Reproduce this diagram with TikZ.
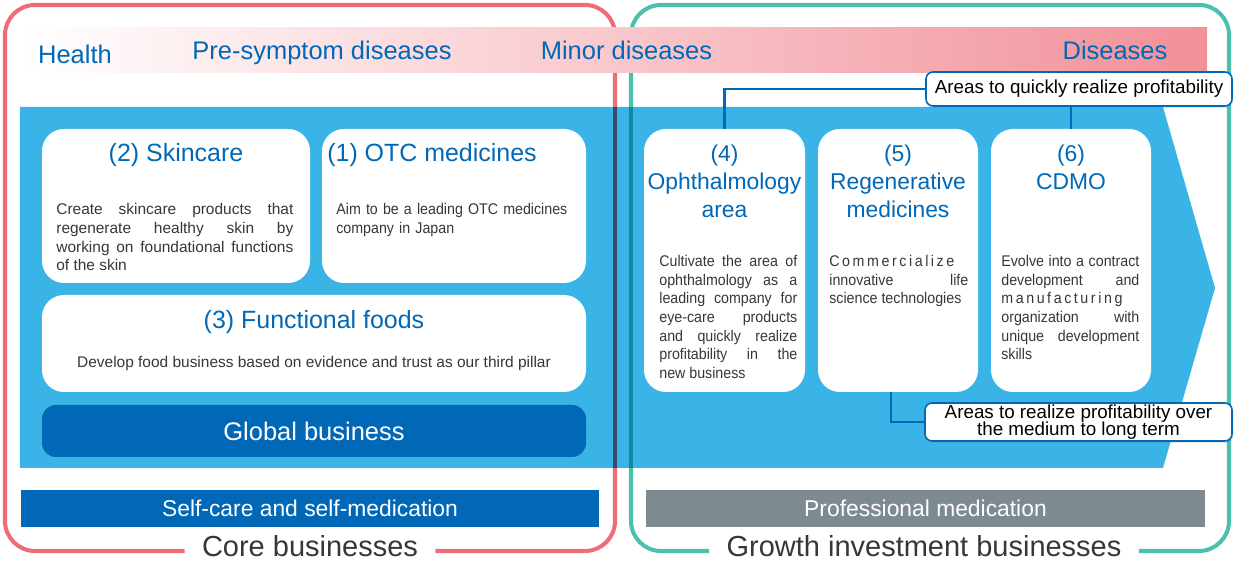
\documentclass[tikz,border=0pt]{standalone}
\usepackage{fontspec}
\setmainfont{Liberation Sans}
\newfontfamily\narrowsans[FakeStretch=0.92]{Liberation Sans}
\usetikzlibrary{shadows}

\definecolor{corered}{RGB}{238,107,120}
\definecolor{growthteal}{RGB}{76,192,174}
\definecolor{skyblue}{RGB}{58,180,230}
\definecolor{deepblue}{RGB}{0,104,183}
\definecolor{medgray}{RGB}{125,138,143}
\definecolor{bodygray}{RGB}{55,55,55}
\definecolor{bandpink}{RGB}{242,144,153}
\definecolor{bandmid}{RGB}{249,204,209}
\definecolor{redonblue}{RGB}{54,75,108}
\definecolor{tealonblue}{RGB}{17,136,157}

\begin{document}
\begin{tikzpicture}[
    groupframe/.style = {
      line width=2.3pt,
      rounded corners=0.6cm
    },
    card/.style = {
      fill=white,
      rounded corners=0.44cm,
      inner sep=0pt
    },
    cardtitle/.style = {
      text=deepblue,
      font=\fontsize{14.2}{17}\selectfont,
      inner sep=0pt,
      anchor=base
    },
    sidetitle/.style = {
      text=deepblue,
      font=\fontsize{13}{15.9}\selectfont,
      text width=3.2cm,
      align=center,
      inner sep=0pt,
      anchor=base
    },
    body/.style = {
      text=bodygray,
      font=\fontsize{8.8}{10.6}\selectfont,
      inner sep=0pt,
      anchor=base west
    },
    narrowbody/.style = {
      body,
      font=\narrowsans\fontsize{8.8}{10.6}\selectfont
    },
    stage/.style = {
      text=deepblue,
      font=\fontsize{14.5}{17}\selectfont,
      inner sep=0pt,
      anchor=base
    },
    bar/.style = {
      text=white,
      font=\fontsize{13}{15}\selectfont,
      minimum height=0.74cm,
      inner sep=0pt
    },
    callout/.style = {
      fill=white,
      draw=deepblue,
      line width=0.9pt,
      rounded corners=0.14cm,
      font=\fontsize{10.7}{10}\selectfont,
      align=center,
      inner sep=0pt,
      drop shadow={opacity=0.2, shadow xshift=0.03cm, shadow yshift=-0.04cm}
    },
    link/.style = {
      draw=deepblue,
      line width=1.2pt
    },
    grouplabel/.style = {
      font=\fontsize{16.5}{20}\selectfont,
      text=bodygray,
      inner xsep=0.34cm,
      inner ysep=0pt,
      anchor=base
    }
  ]

    \useasboundingbox (0,0) rectangle (24.68,-11.3);

    % Group labels and frames
    \node[grouplabel] (core) at (6.2,-11.14) {Core businesses};
    \node[grouplabel] (growth) at (18.48,-11.14) {Growth investment businesses};

    \draw[groupframe, corered] (core.west |- 0,-11.02) -- (0.1,-11.02) -- (0.1,-0.1)
      -- (12.3,-0.1) -- (12.3,-11.02) -- (core.east |- 0,-11.02);
    \draw[groupframe, growthteal] (growth.west |- 0,-11.02) -- (12.62,-11.02) -- (12.62,-0.1)
      -- (24.58,-0.1) -- (24.58,-11.02) -- (growth.east |- 0,-11.02);

    % Disease stage band
    \node[minimum width=23.74cm, minimum height=0.9cm, inner sep=0pt,
      left color=white, middle color=bandmid, right color=bandpink] (band) at (12.27,-1.01) {};
    \node[stage] (health) at (1.5,-1.28) {Health};
    \node[stage] (presym) at (6.44,-1.2) {Pre-symptom diseases};
    \node[stage] (minor) at (12.53,-1.2) {Minor diseases};
    \node[stage] (disease) at (22.3,-1.2) {Diseases};

    % Big arrow
    \fill[skyblue] (0.4,-2.14) -- (23.26,-2.14) -- (24.3,-5.76) -- (23.26,-9.36) -- (0.4,-9.36) -- cycle;
    \draw[line width=2.3pt, redonblue] (12.3,-2.14) -- (12.3,-9.36);
    \draw[line width=2.3pt, tealonblue] (12.62,-2.14) -- (12.62,-9.36);

    % Core business cards
    \node[card, minimum width=5.36cm, minimum height=3.08cm] (skin) at (3.52,-4.12) {};
    \node[card, minimum width=5.28cm, minimum height=3.08cm] (otc) at (9.08,-4.12) {};
    \node[card, minimum width=10.88cm, minimum height=1.94cm] (food) at (6.28,-6.87) {};
    \node[card, fill=deepblue, rounded corners=0.28cm, minimum width=10.88cm, minimum height=1.04cm,
      text=white, font=\fontsize{14.5}{17}\selectfont] (global) at (6.28,-8.62) {Global business};

    \node[cardtitle] (skintitle) at (3.52,-3.24) {(2) Skincare};
    \node[cardtitle] (otctitle) at (8.64,-3.24) {(1) OTC medicines};
    \node[cardtitle] (foodtitle) at (6.28,-6.58) {(3) Functional foods};

    \node[body, text width=4.74cm, align=justify] (skintext) at (1.12,-4.3)
      {Create skincare products that\linebreak regenerate healthy skin by\linebreak
       working on foundational functions\linebreak of the skin};
    \node[narrowbody, text width=4.95cm, align=left] (otctext) at (6.72,-4.3)
      {Aim to be a leading OTC medicines\\company in Japan};
    \node[body, anchor=base] (foodtext) at (6.28,-7.36)
      {Develop food business based on evidence and trust as our third pillar};

    % Growth investment cards
    \node[card, minimum width=3.22cm, minimum height=5.26cm] (oph) at (14.49,-5.21) {};
    \node[card, minimum width=3.2cm, minimum height=5.26cm] (regen) at (17.96,-5.21) {};
    \node[card, minimum width=3.2cm, minimum height=5.26cm] (cdmo) at (21.42,-5.21) {};

    \node[sidetitle] (ophtitle) at (14.49,-3.24) {(4)\\Ophthalmology\\area};
    \node[sidetitle] (regentitle) at (17.96,-3.24) {(5)\\Regenerative\\medicines};
    \node[sidetitle] (cdmotitle) at (21.42,-3.24) {(6)\\CDMO};

    \node[narrowbody, text width=2.76cm, align=justify] (ophtext) at (13.18,-5.33)
      {Cultivate the area of\linebreak ophthalmology as a\linebreak leading company for\linebreak
       eye-care products\linebreak and quickly realize\linebreak profitability in the\linebreak new business};
    \node[narrowbody, text width=2.78cm, align=justify] (regentext) at (16.58,-5.33)
      {C\,o\,m\,m\,e\,r\,c\,i\,a\,l\,i\,z\,e\linebreak innovative life\linebreak science technologies};
    \node[narrowbody, text width=2.76cm, align=justify] (cdmotext) at (20.02,-5.33)
      {Evolve into a contract\linebreak development and\linebreak
       m\,a\,n\,u\,f\,a\,c\,t\,u\,r\,i\,n\,g\linebreak organization with\linebreak
       unique development\linebreak skills};

    % Profitability callouts
    \draw[link] (18.52,-1.78) -| (oph.north);
    \draw[link] (cdmo.north |- 0,-2.12) -- (cdmo.north);
    \draw[link] ([xshift=-0.14cm]regen.south) |- (18.5,-8.44);

    \node[callout, minimum width=6.12cm, minimum height=0.68cm] (quick) at (21.58,-1.78)
      {Areas to quickly realize profitability};
    \node[callout, minimum width=6.14cm, minimum height=0.76cm] (medium) at (21.57,-8.44)
      {Areas to realize profitability over\\the medium to long term};

    % Bottom bars
    \node[bar, fill=deepblue, minimum width=11.56cm] (selfcare) at (6.2,-10.17) {Self-care and self-medication};
    \node[bar, fill=medgray, minimum width=11.18cm] (profmed) at (18.51,-10.17) {Professional medication};

  \end{tikzpicture}
\end{document}
